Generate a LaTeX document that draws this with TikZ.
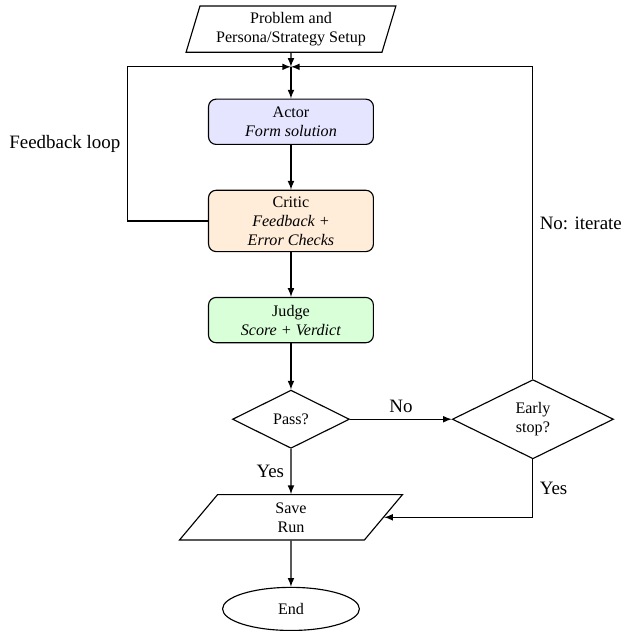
\documentclass[tikz,border=0pt]{standalone}
\usepackage{fontspec}
\setmainfont{Liberation Serif}
\usepackage{xcolor}
\usepackage{tikz}
\usetikzlibrary{arrows,positioning,calc}
\usetikzlibrary{shapes.geometric}

\tikzset{
	box/.style={draw,rounded corners=4pt,align=center,minimum width=3.06cm,font=\fontsize{8.5}{10}\selectfont},
	io/.style={draw,trapezium,trapezium left angle=75,trapezium right angle=105,trapezium stretches=true,align=center,minimum height=0.85cm,font=\fontsize{8.5}{10}\selectfont},
	decision/.style={draw,diamond,inner sep=1pt,align=center,font=\fontsize{8.5}{10}\selectfont},
	flow/.style={-latex}
}

\begin{document}
\begin{tikzpicture}[semithick]
	\useasboundingbox (0,0) rectangle (11.53,-11.71);
	% nodes
	\node[io,minimum width=3.9cm] (setup) at (5.40,-0.54) {Problem and\\Persona/Strategy Setup};
	\coordinate (merge) at (5.40,-1.24);
	\node[box,fill=blue!10,minimum height=0.84cm] (actor) at (5.40,-2.26) {Actor\\\textit{Form solution}};
	\node[box,fill=orange!15,minimum height=1.11cm] (critic) at (5.40,-4.10) {Critic\\\textit{Feedback +}\\\textit{Error Checks}};
	\node[box,fill=green!15,minimum height=0.84cm] (judge) at (5.40,-5.94) {Judge\\\textit{Score + Verdict}};
	\node[decision,minimum width=2.17cm,minimum height=1.08cm] (pass) at (5.40,-7.78) {Pass?};
	\node[decision,minimum width=2.99cm,minimum height=1.47cm] (early) at (9.89,-7.78) {Early\\stop?};
	\node[io,minimum width=4.14cm,minimum height=0.84cm] (save) at (5.40,-9.60) {Save\\Run};
	\node[draw,ellipse,minimum width=2.54cm,minimum height=0.80cm,font=\fontsize{8.5}{10}\selectfont] (end) at (5.40,-11.30) {End};
	\coordinate (fbleft) at (2.36,-1.24);
	% connectors
	\draw[flow] (setup) -- (merge);
	\draw[flow] (merge) -- (actor);
	\draw[flow] (actor) -- (critic);
	\draw[flow] (critic) -- (judge);
	\draw[flow] (judge) -- (pass);
	\draw[flow] (pass) -- node[left] {Yes} (save);
	\draw[flow] (pass) -- node[above] {No} (early);
	\draw[flow] (early.south) |- node[pos=0.25,right] {Yes} (save.east);
	\draw[flow] (early.north) |- node[pos=0.25,right] {No: iterate} (merge);
	\draw (critic.west) -| node[pos=0.75,left] {Feedback loop} (fbleft);
	\draw[flow] (fbleft) -- (merge);
	\draw[flow] (save) -- (end);
\end{tikzpicture}
\end{document}
